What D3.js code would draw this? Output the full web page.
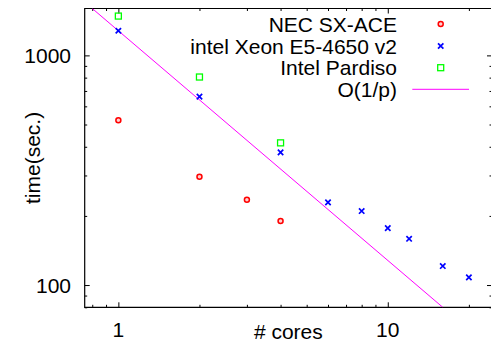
<!DOCTYPE html>
<html>
<head>
<meta charset="utf-8">
<script src="https://cdn.jsdelivr.net/npm/d3@7"></script>
<style>
  body { margin: 0; background: #fff; }
  svg { display: block; }
  text { font-family: "Liberation Sans", Arial, Helvetica, sans-serif; fill: #000; }
</style>
</head>
<body>
<svg id="chart" width="491" height="341"></svg>
<script>
// values
const necCores = [1, 2, 3, 4];
const necTime = [522, 296, 235, 190];

const xeonCores = [1, 2, 4, 6, 8, 10, 12, 16, 20];
const xeonTime = [1280, 661, 378, 229, 210, 177, 159, 121, 108];

const pardisoCores = [1, 2, 4];
const pardisoTime = [1483, 805, 416];

// O(1/p) guide: two points on the straight line (log-log)
const guideCores = [0.8, 16];
const guideTime = [1600, 80];

const legendLabels = ["NEC SX-ACE", "intel Xeon E5-4650 v2", "Intel Pardiso", "O(1/p)"];

const xMajor = [1, 10];
const xMinor = [0.8, 0.9, 2, 3, 4, 5, 6, 7, 8, 9, 20];
const yMajor = [100, 1000];
const yMinor = [80, 90, 200, 300, 400, 500, 600, 700, 800, 900];

const svg = d3.select("#chart");
const pLeft = 84.7, pRight = 492, pTop = 8.5, pBottom = 307.3;

const x = d3.scaleLog().domain([0.75, 24.37]).range([pLeft, pRight]);
const y = d3.scaleLog().domain([80, 1600]).range([pBottom, pTop]);

const fontSize = 21;

// ticks, gnuplot style: pointing inward on all four sides
function tickAxes(axisFn, scale, vals, size, pos, isX) {
  svg.append("g")
    .attr("transform", isX ? `translate(0,${pos})` : `translate(${pos},0)`)
    .call(axisFn(scale).tickValues(vals).tickSize(size).tickFormat(""))
    .call(g => g.select(".domain").remove())
    .call(g => g.selectAll("line").attr("stroke", "#000").attr("stroke-width", 1));
}
tickAxes(d3.axisBottom, x, xMajor, -5, pBottom, true);
tickAxes(d3.axisBottom, x, xMinor, -2.5, pBottom, true);
tickAxes(d3.axisTop, x, xMajor, -5, pTop, true);
tickAxes(d3.axisTop, x, xMinor, -2.5, pTop, true);
tickAxes(d3.axisLeft, y, yMajor, -5, pLeft, false);
tickAxes(d3.axisLeft, y, yMinor, -2.5, pLeft, false);
tickAxes(d3.axisRight, y, yMajor, -5, pRight, false);
tickAxes(d3.axisRight, y, yMinor, -2.5, pRight, false);

// border
svg.append("path")
  .attr("d", `M${pRight},${pTop}H${pLeft}V${pBottom}H${pRight}`)
  .attr("fill", "none")
  .attr("stroke", "#000")
  .attr("stroke-width", 1.2);

// tick labels
svg.append("g").selectAll("text")
  .data(xMajor)
  .join("text")
  .attr("x", d => x(d))
  .attr("y", 336.5)
  .attr("text-anchor", "middle")
  .attr("font-size", fontSize)
  .text(d => d);

svg.append("g").selectAll("text")
  .data(yMajor)
  .join("text")
  .attr("x", 71)
  .attr("y", d => y(d) + 8)
  .attr("text-anchor", "end")
  .attr("font-size", fontSize)
  .text(d => d);

// axis titles
svg.append("text")
  .attr("x", (pLeft + pRight) / 2)
  .attr("y", 338.5)
  .attr("text-anchor", "middle")
  .attr("font-size", fontSize)
  .text("# cores");

svg.append("text")
  .attr("transform", `translate(40,${(pTop + pBottom) / 2}) rotate(-90)`)
  .attr("text-anchor", "middle")
  .attr("font-size", fontSize)
  .text("time(sec.)");

// clip for the guide line
svg.append("clipPath").attr("id", "plotClip")
  .append("rect")
  .attr("x", pLeft).attr("y", pTop)
  .attr("width", pRight - pLeft).attr("height", pBottom - pTop);

const guide = guideCores.map((c, i) => [c, guideTime[i]]);
svg.append("path")
  .datum(guide)
  .attr("clip-path", "url(#plotClip)")
  .attr("fill", "none")
  .attr("stroke", "#ff00ff")
  .attr("stroke-width", 1)
  .attr("d", d3.line().x(d => x(d[0])).y(d => y(d[1])));

// markers
function circleMark(g) {
  g.append("circle").attr("r", 2.5)
    .attr("fill", "#ffd0d0").attr("stroke", "#ff0000").attr("stroke-width", 1.5);
}
function crossMark(g) {
  g.append("path").attr("d", "M-2.7,-2.7L2.7,2.7M-2.7,2.7L2.7,-2.7")
    .attr("stroke", "#0000ff").attr("stroke-width", 1.7);
}
function squareMark(g) {
  g.append("rect").attr("x", -3).attr("y", -3).attr("width", 6).attr("height", 6)
    .attr("fill", "none").attr("stroke", "#00ff00").attr("stroke-width", 1.3);
}

function drawPoints(cores, times, mark) {
  svg.append("g").selectAll("g")
    .data(cores.map((c, i) => [c, times[i]]))
    .join("g")
    .attr("transform", d => `translate(${x(d[0])},${y(d[1])})`)
    .each(function () { mark(d3.select(this)); });
}
drawPoints(necCores, necTime, circleMark);
drawPoints(xeonCores, xeonTime, crossMark);
drawPoints(pardisoCores, pardisoTime, squareMark);

// legend
const legendY = [24, 46, 67.7, 89.3];
const legend = svg.append("g");
legendLabels.forEach((label, i) => {
  legend.append("text")
    .attr("x", 397)
    .attr("y", legendY[i] + 7.7)
    .attr("text-anchor", "end")
    .attr("font-size", fontSize)
    .text(label);
});
const marks = [circleMark, crossMark, squareMark];
marks.forEach((m, i) => {
  const g = legend.append("g").attr("transform", `translate(440.7,${legendY[i]})`);
  m(g);
});
legend.append("line")
  .attr("x1", 412.3).attr("x2", 469)
  .attr("y1", legendY[3]).attr("y2", legendY[3])
  .attr("stroke", "#ff00ff").attr("stroke-width", 1);
</script>
</body>
</html>
